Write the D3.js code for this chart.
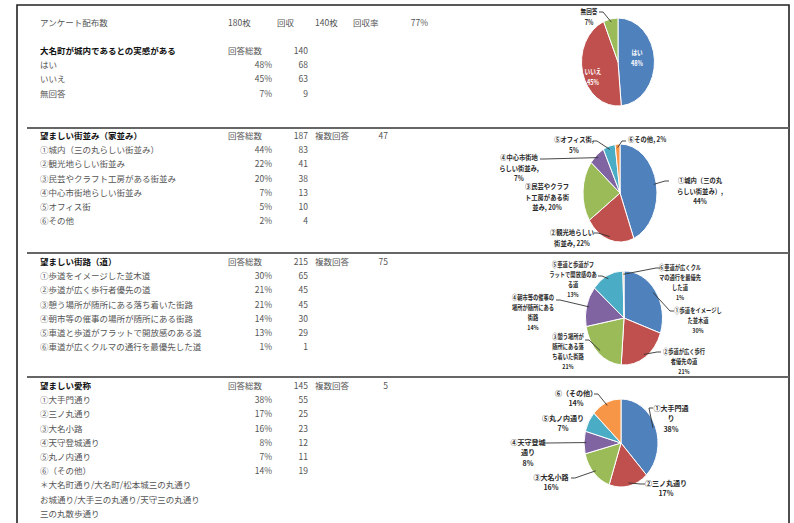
<!DOCTYPE html>
<html lang="ja">
<head>
<meta charset="UTF-8">
<title>アンケート結果</title>
<style>
  body { margin: 0; background: #fff; }
  svg { display: block; font-family: "Noto Sans CJK JP", sans-serif; }
  .row { font-size: 8.5px; fill: #555; }
  .title { font-size: 8.5px; fill: #111; font-weight: bold; }
  .plabel { fill: #2a2a2a; font-weight: 600; }
  .inlabel { fill: #fff; font-weight: bold; }
  .leader { fill: none; stroke: #333; stroke-width: 0.9px; }
</style>
</head>
<body>
<div id="chart"></div>
<script src="https://d3js.org/d3.v7.min.js"></script>
<script>
// ---- data ----
const headerCells = ["アンケート配布数", "180枚", "回収", "140枚", "回収率", "77%"];

const q1Title = "大名町が城内であるとの実感がある";
const q1Labels = ["はい", "いいえ", "無回答"];
const q1Counts = [68, 63, 9];
const q1Pct = [48, 45, 7];
const q1Total = 140;

const q2Title = "望ましい街並み（家並み）";
const q2Labels = ["①城内（三の丸らしい街並み）", "②観光地らしい街並み", "③民芸やクラフト工房がある街並み",
                  "④中心市街地らしい街並み", "⑤オフィス街", "⑥その他"];
const q2Counts = [83, 41, 38, 13, 10, 4];
const q2Pct = [44, 22, 20, 7, 5, 2];
const q2Total = 187, q2Multi = 47;
const q2PieText = [["①城内（三の丸", "らしい街並み）,", "44%"], ["②観光地らしい", "街並み, 22%"],
                   ["③民芸やクラフ", "ト工房がある街", "並み, 20%"], ["④中心市街地", "らしい街並み,", "7%"],
                   ["⑤オフィス街,", "5%"], ["⑥その他, 2%"]];

const q3Title = "望ましい街路（道）";
const q3Labels = ["①歩道をイメージした並木道", "②歩道が広く歩行者優先の道", "③憩う場所が随所にある落ち着いた街路",
                  "④朝市等の催事の場所が随所にある街路", "⑤車道と歩道がフラットで開放感のある道", "⑥車道が広くクルマの通行を最優先した道"];
const q3Counts = [65, 45, 45, 30, 29, 1];
const q3Pct = [30, 21, 21, 14, 13, 1];
const q3Total = 215, q3Multi = 75;
const q3PieText = [["①歩道をイメージし", "た並木道", "30%"], ["②歩道が広く歩行", "者優先の道", "21%"],
                   ["③憩う場所が", "随所にある落", "ち着いた街路", "21%"], ["④朝市等の催事の", "場所が随所にある", "街路", "14%"],
                   ["⑤車道と歩道がフ", "ラットで開放感のあ", "る道", "13%"], ["⑥車道が広くクル", "マの通行を最優先", "した道", "1%"]];

const q4Title = "望ましい愛称";
const q4Labels = ["①大手門通り", "②三ノ丸通り", "③大名小路", "④天守登城通り", "⑤丸ノ内通り", "⑥（その他）"];
const q4Counts = [55, 25, 23, 12, 11, 19];
const q4Pct = [38, 17, 16, 8, 7, 14];
const q4Total = 145, q4Multi = 5;
const q4Notes = ["＊大名町通り/大名町/松本城三の丸通り", "お城通り/大手三の丸通り/天守三の丸通り", "三の丸散歩通り"];
const q4PieText = [["①大手門通", "り", "38%"], ["②三ノ丸通り", "17%"], ["③大名小路", "16%"],
                   ["④天守登城", "通り", "8%"], ["⑤丸ノ内通り", "7%"], ["⑥（その他）", "14%"]];

const colors = ["#4F81BD", "#C0504D", "#9BBB59", "#8064A2", "#4BACC6", "#F79646"];

// ---- layout ----
const width = 794, height = 523;
const svg = d3.select("#chart").append("svg").attr("width", width).attr("height", height);

// frame + dividers
svg.append("path").attr("d", `M17,${height} V5 H789 V${height}`)
  .attr("fill", "none").attr("stroke", "#222").attr("stroke-width", 1.6);
[128, 253, 377].forEach(y => {
  svg.append("line").attr("x1", 27).attr("x2", 789).attr("y1", y).attr("y2", y)
    .attr("stroke", "#666").attr("stroke-width", 2);
});

const col = { label: 40, total: 228, pct: 272, count: 308, multi: 315, multiVal: 388 };
const rowStep = 14.2;

function txt(x, y, s, cls, anchor) {
  svg.append("text").attr("class", cls).attr("x", x).attr("y", y)
    .attr("dy", "0.35em").attr("text-anchor", anchor || "start").text(s);
}

// header row
const hx = [40, 228, 277, 315, 353, 428];
headerCells.forEach((s, i) => txt(hx[i], 23, s, "row", i === 5 ? "end" : "start"));

function table(y0, title, labels, pct, counts, total, multi, notes) {
  txt(col.label, y0, title, "title");
  txt(col.total, y0, "回答総数", "row");
  txt(col.count, y0, total, "row", "end");
  if (multi != null) {
    txt(col.multi, y0, "複数回答", "row");
    txt(col.multiVal, y0, multi, "row", "end");
  }
  labels.forEach((l, i) => {
    const y = y0 + rowStep * (i + 1);
    txt(col.label, y, l, "row");
    txt(col.pct, y, pct[i] + "%", "row", "end");
    txt(col.count, y, counts[i], "row", "end");
  });
  (notes || []).forEach((n, i) => txt(col.label, y0 + rowStep * (labels.length + 1 + i), n, "row"));
}

table(51, q1Title, q1Labels, q1Pct, q1Counts, q1Total, null);
table(136, q2Title, q2Labels, q2Pct, q2Counts, q2Total, q2Multi);
table(262, q3Title, q3Labels, q3Pct, q3Counts, q3Total, q3Multi);
table(386, q4Title, q4Labels, q4Pct, q4Counts, q4Total, q4Multi, q4Notes);

// pies: label placement = [x, y of first line, anchor, leader start x, leader start y]
// font = [size, x-squeeze, line height]
function pie(cx, cy, rx, ry, counts, texts, place, font, inside) {
  const arcs = d3.pie().sort(null)(counts);
  const g = svg.append("g").attr("transform", `translate(${cx},${cy}) scale(1,${ry / rx})`);
  g.selectAll("path").data(arcs).join("path")
    .attr("d", d3.arc().innerRadius(0).outerRadius(rx))
    .attr("fill", (d, i) => colors[i])
    .attr("stroke", "#fff").attr("stroke-width", 1)
    .attr("vector-effect", "non-scaling-stroke");

  arcs.forEach((a, i) => {
    const p = place[i];
    const t = svg.append("text").attr("class", inside && inside[i] ? "inlabel" : "plabel")
      .attr("font-size", font[0] + "px")
      .attr("text-anchor", p[2])
      .attr("transform", `translate(${p[0]},${p[1]}) scale(${font[1]},1)`);
    texts[i].forEach((s, k) => t.append("tspan").attr("x", 0).attr("y", k * font[2])
      .attr("dy", "0.35em").text(s));
    if (p[3] != null) {
      const m = (a.startAngle + a.endAngle) / 2;
      const ex = cx + rx * 0.93 * Math.sin(m), ey = cy - ry * 0.93 * Math.cos(m);
      const hx2 = p[3] + (ex > p[3] ? 4 : -4);
      svg.append("path").attr("class", "leader")
        .attr("d", `M${p[3]},${p[4]} H${hx2} L${ex},${ey}`);
    }
  });
}

pie(618, 62, 36.5, 44, q1Counts, [["はい", q1Pct[0] + "%"], ["いいえ", q1Pct[1] + "%"], ["無回答", q1Pct[2] + "%"]],
  [[637, 53, "middle"], [593, 72, "middle"], [589, 12, "middle", 599, 12]], [7, 0.8, 10.5], [true, true, false]);

pie(620, 193, 37, 49, q2Counts, q2PieText,
  [[700, 181, "middle", 669, 181], [572, 233, "middle", 594, 233], [547, 187, "middle"],
   [519, 158, "middle", 540, 159], [574, 140, "middle", 593, 141], [628, 140, "start", 626, 141]],
  [7, 0.9, 10.3]);

pie(624, 318, 38.5, 47, q3Counts, q3PieText,
  [[698, 311, "middle", 674, 311], [684, 352, "middle", 661, 352], [568, 337, "middle", 585, 340],
   [533, 298, "middle", 556, 300], [573, 265, "middle", 598, 276], [680, 268, "middle", 660, 268]],
  [6.6, 0.8, 9.9]);

pie(621, 443, 37, 44, q4Counts, q4PieText,
  [[671, 408, "middle", 653, 408], [666, 483, "middle", 645, 484], [551, 477, "middle", 571, 478],
   [528, 442, "middle", 543, 443], [563, 418, "middle"], [576, 393, "middle", 594, 394]],
  [7.2, 0.98, 10.6]);
</script>
</body>
</html>
